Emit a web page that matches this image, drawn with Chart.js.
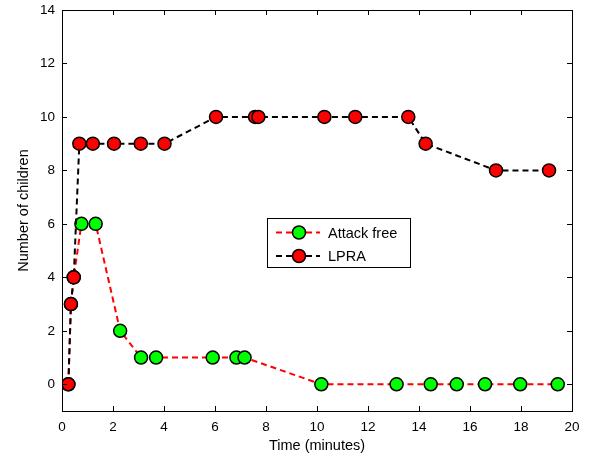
<!DOCTYPE html>
<html>
<head>
<meta charset="utf-8">
<script src="https://cdn.jsdelivr.net/npm/chart.js@4"></script>
<style>
  html, body { margin: 0; padding: 0; background: #fff; }
</style>
</head>
<body>
<canvas id="grafico" width="589" height="457"></canvas>
<script>
// datos
const tiempoLPRA = [0.25, 0.35, 0.46, 0.68, 1.21, 2.04, 3.09, 4.02, 6.04, 7.57, 7.7, 10.29, 11.5, 13.58, 14.26, 17.02, 19.1]
const ninosLPRA = [0, 3, 4, 9, 9, 9, 9, 9, 10, 10, 10, 10, 10, 10, 9, 8, 8]

const tiempoLibre = [0.25, 0.35, 0.46, 0.76, 1.32, 2.28, 3.1, 3.69, 5.91, 6.84, 7.16, 10.17, 13.12, 14.46, 15.48, 16.59, 17.97, 19.44]
const ninosLibre = [0, 3, 4, 6, 6, 2, 1, 1, 1, 1, 1, 0, 0, 0, 0, 0, 0, 0]

const ticksX = [0, 2, 4, 6, 8, 10, 12, 14, 16, 18, 20]
const ticksY = [0, 2, 4, 6, 8, 10, 12, 14]

const puntos = (xs, ys) => xs.map((x, i) => ({ x: x, y: ys[i] }))

const familia = 'Liberation Sans, Arial, sans-serif'
const fuenteTicks = { family: familia, size: 13.5 }
const fuenteTitulo = { family: familia, size: 14.5 }

// caja, ticks hacia adentro y leyenda estilo matlab
const marco = {
  id: 'marco',
  afterDraw(chart) {
    const ctx = chart.ctx
    const a = chart.chartArea
    const sx = chart.scales.x
    const sy = chart.scales.y
    ctx.save()
    ctx.strokeStyle = '#000'
    ctx.lineWidth = 1
    ctx.setLineDash([])
    ctx.strokeRect(a.left + 0.5, a.top + 0.5, a.right - a.left, a.bottom - a.top)
    ctx.beginPath()
    ticksX.forEach((v) => {
      const px = Math.round(sx.getPixelForValue(v)) + 0.5
      ctx.moveTo(px, a.bottom); ctx.lineTo(px, a.bottom - 5)
      ctx.moveTo(px, a.top); ctx.lineTo(px, a.top + 5)
    })
    ticksY.forEach((v) => {
      const py = Math.round(sy.getPixelForValue(v)) + 0.5
      ctx.moveTo(a.left, py); ctx.lineTo(a.left + 5, py)
      ctx.moveTo(a.right, py); ctx.lineTo(a.right - 5, py)
    })
    ctx.stroke()

    // leyenda
    const lx = a.left + 205
    const ly = a.top + 208
    const lw = 143, lh = 49
    ctx.fillStyle = '#fff'
    ctx.fillRect(lx, ly, lw, lh)
    ctx.strokeRect(lx + 0.5, ly + 0.5, lw, lh)
    const items = chart.data.datasets.slice().reverse()
    items.forEach((ds, i) => {
      const yy = ly + 14.5 + i * 23.5
      ctx.strokeStyle = ds.borderColor
      ctx.lineWidth = 2
      ctx.setLineDash([6, 4])
      ctx.beginPath()
      ctx.moveTo(lx + 9, yy); ctx.lineTo(lx + 53, yy)
      ctx.stroke()
      ctx.setLineDash([])
      ctx.beginPath()
      ctx.arc(lx + 32, yy, 6.5, 0, Math.PI * 2)
      ctx.fillStyle = ds.pointBackgroundColor
      ctx.fill()
      ctx.strokeStyle = '#000'
      ctx.lineWidth = 1.5
      ctx.stroke()
      ctx.fillStyle = '#000'
      ctx.font = '14.5px ' + familia
      ctx.textBaseline = 'middle'
      ctx.fillText(ds.label, lx + 61, yy + 1)
    })
    ctx.restore()
  }
}

const ctxg = document.getElementById('grafico').getContext('2d')

const miGrafico = new Chart(ctxg, {
  type: 'line',
  data: {
    datasets: [{
      label: 'LPRA',
      data: puntos(tiempoLPRA, ninosLPRA),
      borderColor: '#000',
      borderWidth: 2,
      borderDash: [6, 4],
      pointBackgroundColor: '#ff0000',
      pointBorderColor: '#000',
      pointBorderWidth: 1.5,
      pointRadius: 6.5,
      tension: 0
    }, {
      label: 'Attack free',
      data: puntos(tiempoLibre, ninosLibre),
      borderColor: '#ff0000',
      borderWidth: 2,
      borderDash: [6, 4],
      pointBackgroundColor: '#00ff00',
      pointBorderColor: '#000',
      pointBorderWidth: 1.5,
      pointRadius: 6.5,
      tension: 0
    }]
  },
  options: {
    responsive: false,
    animation: false,
    layout: { padding: { top: 10, right: 17, left: 15, bottom: 0 } },
    plugins: { legend: { display: false }, tooltip: { enabled: false } },
    scales: {
      x: {
        type: 'linear',
        min: 0,
        max: 20,
        afterBuildTicks: (s) => { s.ticks = ticksX.map((v) => ({ value: v })) },
        afterFit: (s) => { s.height = 46; s.paddingLeft = 0; s.paddingRight = 0 },
        grid: { display: false, drawTicks: false },
        border: { display: false },
        ticks: { color: '#000', font: fuenteTicks, padding: 8, maxRotation: 0 },
        title: { display: true, text: 'Time (minutes)', color: '#000', font: fuenteTitulo, padding: { top: 2, bottom: 2 } }
      },
      y: {
        min: -1,
        max: 14,
        afterBuildTicks: (s) => { s.ticks = ticksY.map((v) => ({ value: v })) },
        afterFit: (s) => { s.width = 47; s.paddingTop = 0; s.paddingBottom = 0 },
        grid: { display: false, drawTicks: false },
        border: { display: false },
        ticks: { color: '#000', font: fuenteTicks, padding: 7 },
        title: { display: true, text: 'Number of children', color: '#000', font: fuenteTitulo, padding: { top: 0, bottom: 0 } }
      }
    }
  },
  plugins: [marco]
})
</script>
</body>
</html>
